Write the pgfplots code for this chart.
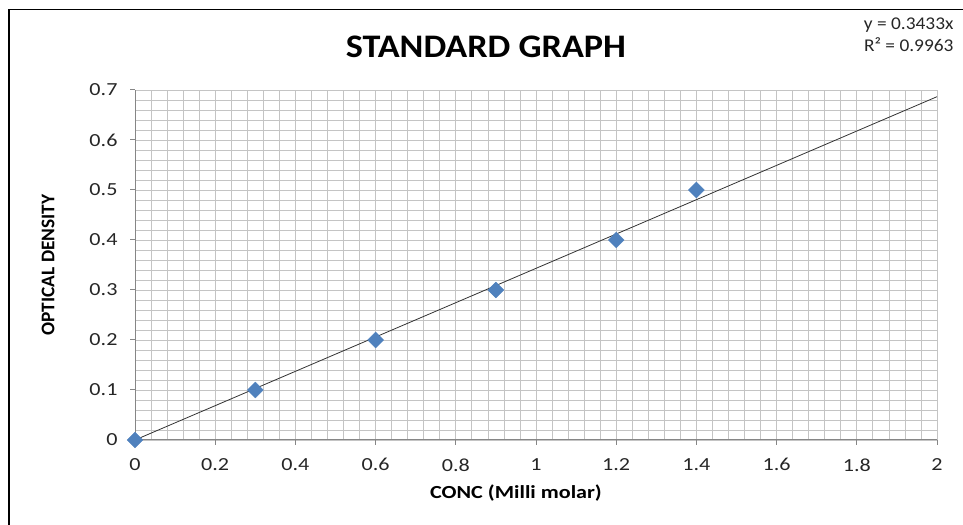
\documentclass[border=0pt]{standalone}
\usepackage{pgfplots}
\pgfplotsset{compat=1.18}
\usepackage{fontspec}
\setmainfont{Carlito}
\newfontfamily\titlefont{Carlito}[FakeStretch=1.1]
\newfontfamily\eqfont{Carlito}[FakeStretch=1.08]
\newfontfamily\tickfont{Carlito}[FakeStretch=1.2]
\definecolor{ptblue}{HTML}{4F81BD}
\definecolor{gridgray}{HTML}{C4C4C4}
\definecolor{axgray}{HTML}{868686}
\begin{document}
\begin{tikzpicture}[x=1bp,y=1bp]
\useasboundingbox (0,0) rectangle (963,525);
\draw[line width=1.5bp] (9,0) -- (9,515.5) -- (963,515.5);
\begin{axis}[at={(135bp,85bp)}, anchor=south west, scale only axis,
  width=802bp, height=350bp,
  xmin=0, xmax=2, ymin=0, ymax=0.7,
  xtick={0,0.2,0.4,0.6,0.8,1,1.2,1.4,1.6,1.8,2},
  ytick={0,0.1,0.2,0.3,0.4,0.5,0.6,0.7},
  minor x tick num=4, minor y tick num=4,
  grid=both,
  major grid style={gridgray, line width=0.75bp},
  minor grid style={gridgray, line width=0.75bp},
  axis x line=bottom, axis y line=left,
  axis line style={axgray, line width=1bp, -},
  tick align=outside, major tick length=5bp, minor tick length=0pt,
  tick style={axgray, line width=1bp},
  /pgf/number format/assume math mode=true,
  ticklabel style={font=\tickfont\fontsize{18.5}{20}\selectfont, text=black!85},
  xticklabel style={yshift=-10bp},
  yticklabel style={xshift=-9bp},
  clip=false,
]
\addplot[draw=black!80, line width=0.8bp] coordinates {(0,0) (2,0.6866)};
\addplot[only marks, mark=square*, mark size=5.6bp,
  mark options={rotate=45, fill=ptblue, draw=ptblue}]
  coordinates {(0,0) (0.3,0.1) (0.6,0.2) (0.9,0.3) (1.2,0.4) (1.4,0.5)};
\end{axis}
\node[font=\titlefont\bfseries\fontsize{33}{35}\selectfont] at (486,478) {STANDARD GRAPH};
\node[font=\eqfont\fontsize{18}{20}\selectfont, anchor=east, text=black!85] at (957,500) {y = 0.3433x};
\node[font=\eqfont\fontsize{18}{20}\selectfont, anchor=east, text=black!85] at (957,480) {R² = 0.9963};
\node[font=\bfseries\fontsize{19.4}{21}\selectfont, rotate=90] at (48,260) {OPTICAL DENSITY};
\node[font=\tickfont\bfseries\fontsize{18.5}{20}\selectfont] at (516,32) {CONC (Milli molar)};
\end{tikzpicture}
\end{document}
